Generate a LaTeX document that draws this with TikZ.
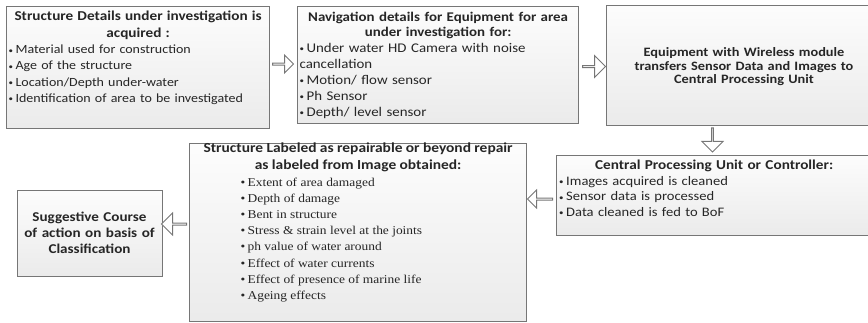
\documentclass[tikz,border=0pt]{standalone}
\usepackage{fontspec}
\setmainfont{Carlito}[FakeStretch=1.12, BoldFeatures={FakeStretch=1.12}]
\newfontfamily\tnr{Liberation Serif}[FakeStretch=1.12]
\usetikzlibrary{shapes.arrows,calc}
\definecolor{txt}{HTML}{262626}
\definecolor{frame}{HTML}{767676}
\tikzset{
  box/.style={draw=frame, line width=1.2pt, top color=gray!2, bottom color=gray!16, anchor=north west, inner sep=0pt},
  boxtext/.style={anchor=north, inner sep=0pt, text=txt, align=left},
  barrow/.style={single arrow, draw=frame, fill=white, line width=1pt, inner sep=0pt, single arrow head indent=0pt},
}
\newcommand{\bul}{\makebox[7pt][l]{\raisebox{0.5pt}{\footnotesize\textbullet}}}
\newcommand{\sbul}{\makebox[7pt][l]{\textbullet}}
\begin{document}
\begin{tikzpicture}[x=1pt,y=-1pt]
\useasboundingbox (0,0) rectangle (868,322);
% boxes
\node[box, minimum width=263, minimum height=122] (b1) at (6,6) {};
\node[box, minimum width=281, minimum height=117] (b2) at (297,6) {};
\node[box, minimum width=272, minimum height=120] (b3) at (606,5) {};
\node[box, minimum width=320, minimum height=80] (b4) at (556,155) {};
\node[box, minimum width=337, minimum height=178] (b5) at (189,143) {};
\node[box, minimum width=145, minimum height=86] (b6) at (17,190) {};
% texts
\node[boxtext, text width=259, font=\fontsize{12.5}{16.3}\selectfont] (t1) at ($(b1.north)+(0,5)$) {%
{\centering\fontsize{13.6}{16.5}\selectfont\bfseries Structure Details under investigation is\\ acquired :\par}
\bul Material used for construction\\
\bul Age of the structure\\
\bul Location/Depth under-water\\
\bul Identification of area to be investigated};
\node[boxtext, text width=277, font=\fontsize{13.3}{16}\selectfont] (t2) at ($(b2.north)+(0,6)$) {%
{\centering\fontsize{13.3}{14.5}\selectfont\bfseries Navigation details for Equipment for area\\ under investigation for:\par}
\bul Under water HD Camera with noise\\
cancellation\\
\bul Motion/ flow sensor\\
\bul Ph Sensor\\
\bul Depth/ level sensor};
\node[boxtext, text width=262, align=center, font=\fontsize{12.8}{13.5}\selectfont\bfseries, anchor=center] (t3) at (744,67) {Equipment with Wireless module\\ transfers Sensor Data and Images to\\ Central Processing Unit};
\node[boxtext, text width=310, anchor=north west, font=\fontsize{13}{15.5}\selectfont] (t4) at ($(b4.north west)+(3,5)$) {%
{\centering\fontsize{13.6}{16}\selectfont\bfseries Central Processing Unit or Controller:\par}
\bul Images acquired is cleaned\\
\bul Sensor data is processed\\
\bul Data cleaned is fed to BoF};
\node[boxtext, text width=333] (t5) at ($(b5.north)+(0,0)$) {%
{\centering\fontsize{13.8}{17}\selectfont\bfseries Structure Labeled as repairable or beyond repair\\ as labeled from Image obtained:\par}
{\tnr\fontsize{12}{16.2}\selectfont
\hspace*{49pt}\sbul Extent of area damaged\\
\hspace*{49pt}\sbul Depth of damage\\
\hspace*{49pt}\sbul Bent in structure\\
\hspace*{49pt}\sbul Stress \& strain level at the joints\\
\hspace*{49pt}\sbul ph value of water around\\
\hspace*{49pt}\sbul Effect of water currents\\
\hspace*{49pt}\sbul Effect of presence of marine life\\
\hspace*{49pt}\sbul Ageing effects\par}};
\node[boxtext, text width=150, align=center, font=\fontsize{13.5}{16}\selectfont\bfseries, anchor=center] (t6) at (89.5,233) {Suggestive Course\\ of action on basis of\\ Classification};
% arrows
\node[barrow, minimum height=21, minimum width=18, single arrow head extend=4pt] (a1) at (282.5,64) {};
\node[barrow, minimum height=23, minimum width=22, single arrow head extend=5pt] (a2) at (593.5,66.5) {};
\node[barrow, minimum height=24, minimum width=21, single arrow head extend=5pt, shape border rotate=270] (a3) at (712.5,139.5) {};
\node[barrow, minimum height=25, minimum width=18, single arrow head extend=4pt, shape border rotate=180] (a4) at (540.5,199) {};
\node[barrow, minimum height=25, minimum width=22, single arrow head extend=5pt, shape border rotate=180] (a5) at (174.5,224) {};
\end{tikzpicture}
\end{document}
